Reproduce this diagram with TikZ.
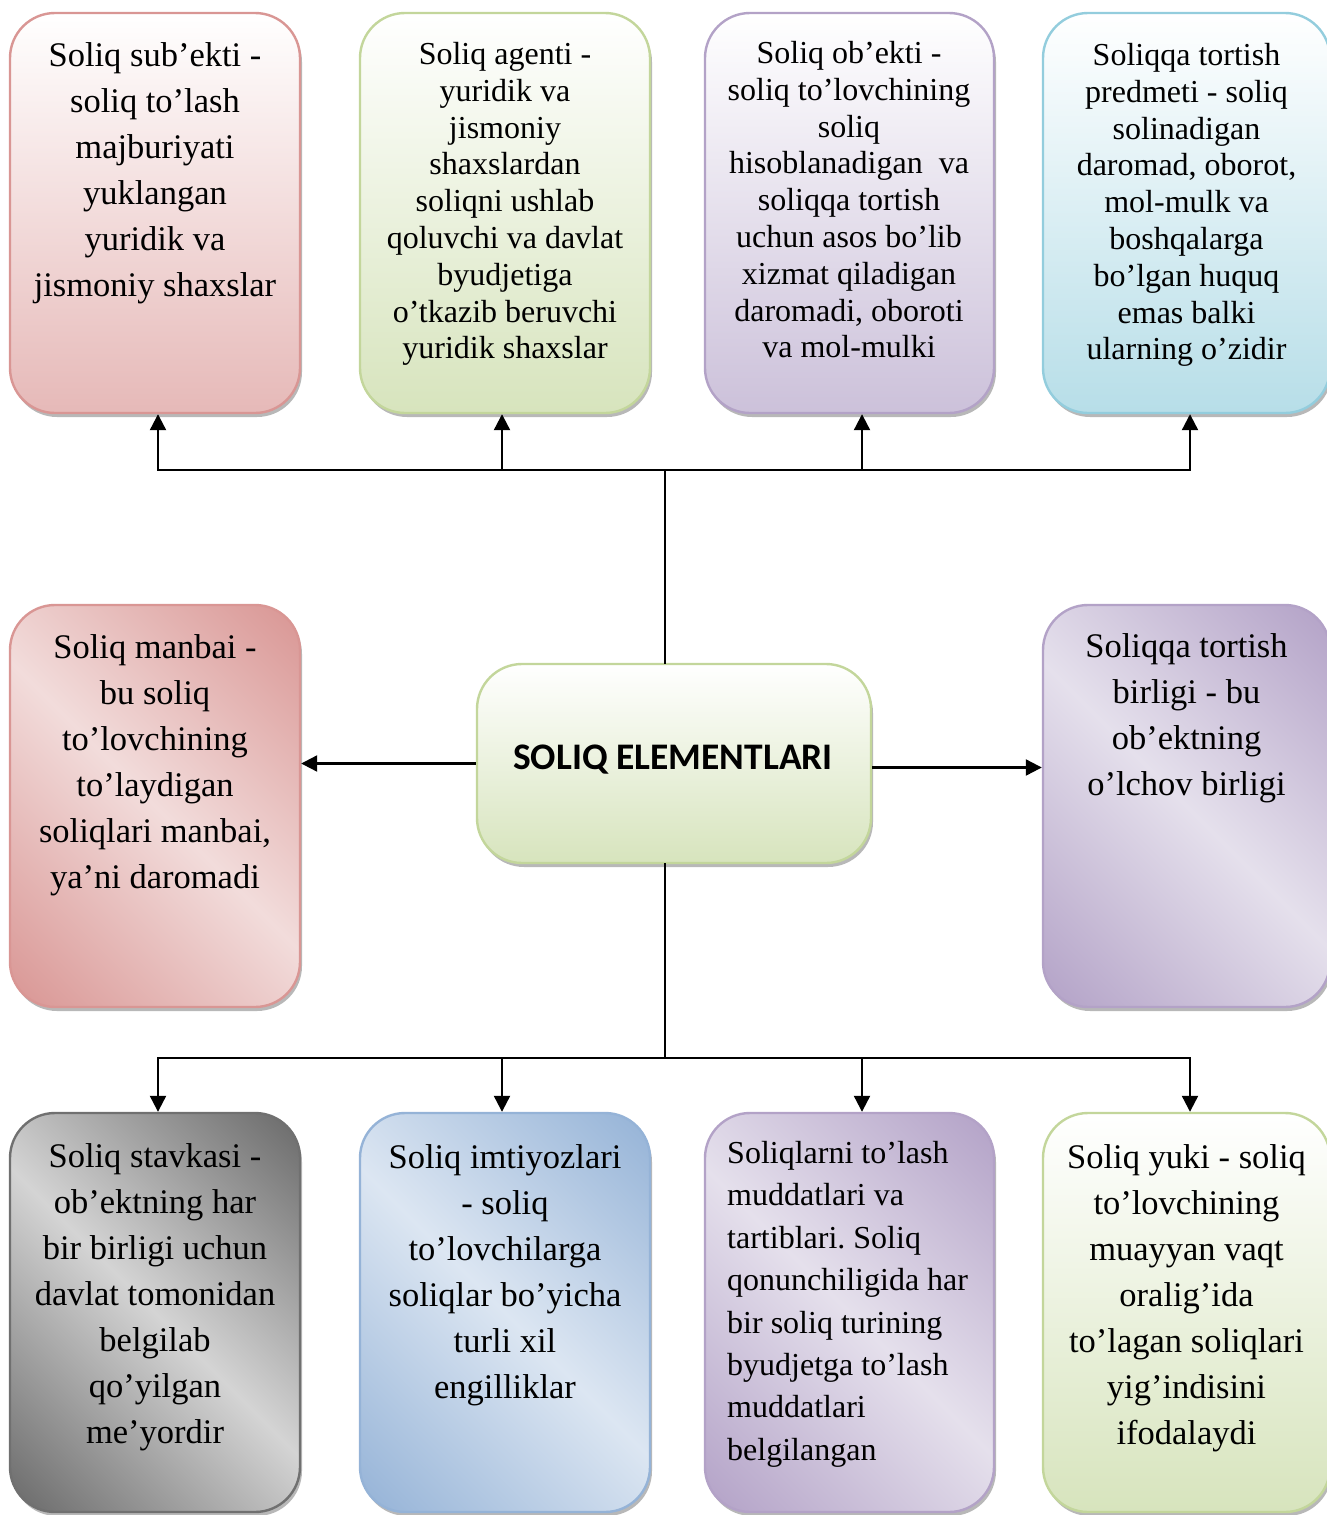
\documentclass[tikz,border=0pt]{standalone}
\usepackage{fontspec}
\setmainfont{Liberation Serif}
\newfontfamily\titlefont{Carlito}
\usetikzlibrary{arrows.meta,shadows}
\frenchspacing

% palette
\definecolor{pinkdk}{HTML}{D99694}
\definecolor{pinkmd}{HTML}{E6B9B8}
\definecolor{pinklt}{HTML}{F2DCDB}
\definecolor{greendk}{HTML}{C3D69B}
\definecolor{greenmd}{HTML}{D7E4BD}
\definecolor{purpdk}{HTML}{B3A2C7}
\definecolor{purpmd}{HTML}{CCC1DA}
\definecolor{purplt}{HTML}{E5E0EC}
\definecolor{bluedk}{HTML}{93CDDD}
\definecolor{bluemd}{HTML}{B7DEE8}
\definecolor{sky}{HTML}{95B3D7}
\definecolor{skylt}{HTML}{DCE6F2}
\definecolor{graydk}{HTML}{6A6A6A}
\definecolor{graylt}{HTML}{D4D4D4}
\definecolor{grayln}{HTML}{707070}

% diagonal reflected gradients
\pgfdeclarehorizontalshading{pinkrefl}{100bp}{color(0bp)=(pinkdk); color(15bp)=(pinkdk); color(50bp)=(pinklt); color(85bp)=(pinkdk); color(100bp)=(pinkdk)}
\pgfdeclarehorizontalshading{purprefl}{100bp}{color(0bp)=(purpdk); color(15bp)=(purpdk); color(50bp)=(purplt); color(85bp)=(purpdk); color(100bp)=(purpdk)}
\pgfdeclarehorizontalshading{grayrefl}{100bp}{color(0bp)=(graydk); color(15bp)=(graydk); color(50bp)=(graylt); color(85bp)=(graydk); color(100bp)=(graydk)}
\pgfdeclarehorizontalshading{skyrefl}{100bp}{color(0bp)=(sky); color(15bp)=(sky); color(50bp)=(skylt); color(85bp)=(sky); color(100bp)=(sky)}

\tikzset{
  card/.style={draw, line width=2.4pt, rounded corners=45pt, inner sep=0pt,
    minimum width=290pt, minimum height=400pt,
    drop shadow={shadow xshift=2pt, shadow yshift=-4pt, fill=black, opacity=0.28}},
  vpink/.style={card, draw=pinkdk, top color=white, bottom color=pinkmd},
  vgreen/.style={card, draw=greendk, top color=white, bottom color=greenmd},
  vpurp/.style={card, draw=purpdk, top color=white, bottom color=purpmd},
  vblue/.style={card, draw=bluedk, top color=white, bottom color=bluemd},
  dpink/.style={card, draw=pinkdk, shading=pinkrefl, shading angle=45},
  dpurp/.style={card, draw=purpdk, shading=purprefl, shading angle=45},
  dgray/.style={card, draw=grayln, shading=grayrefl, shading angle=45},
  dsky/.style={card, draw=sky, shading=skyrefl, shading angle=45},
  bigtxt/.style={anchor=north, align=center, inner sep=0pt, font=\fontsize{34.5}{46}\selectfont},
  smalltxt/.style={anchor=north, align=center, inner sep=0pt, font=\fontsize{32}{36.8}\selectfont},
  conn/.style={line width=2.2pt, black, line cap=rect},
  arr/.style={line width=2.2pt, black, -{Triangle[width=16pt,length=16pt]}}
}

\begin{document}
\begin{tikzpicture}[x=1pt, y=-1pt]
\useasboundingbox (0,0) rectangle (1326,1515);

% top row
\node[vpink]  (b1) at (155,213) {};
\node[vgreen] (b2) at (505,213) {};
\node[vpurp, minimum width=289pt] (b3) at (849.5,213) {};
\node[vblue, minimum width=287pt]  (b4) at (1186.5,213) {};

\node[bigtxt] (t1) at (155,42) {Soliq sub’ekti -\\soliq to’lash\\majburiyati\\yuklangan\\yuridik va\\jismoniy shaxslar};
\node[smalltxt] (t2) at (505,42) {Soliq agenti -\\yuridik va\\jismoniy\\shaxslardan\\soliqni ushlab\\qoluvchi va davlat\\byudjetiga\\o’tkazib beruvchi\\yuridik shaxslar};
\node[smalltxt] (t3) at (849,41) {Soliq ob’ekti -\\soliq to’lovchining\\soliq\\hisoblanadigan\ \ va\\soliqqa tortish\\uchun asos bo’lib\\xizmat qiladigan\\daromadi, oboroti\\va mol-mulki};
\node[smalltxt] (t4) at (1186.5,43) {Soliqqa tortish\\predmeti - soliq\\solinadigan\\daromad, oborot,\\mol-mulk va\\boshqalarga\\bo’lgan huquq\\emas balki\\ularning o’zidir};

% middle row
\node[dpink, minimum height=402pt] (b5) at (155,806) {};
\node[dpurp, minimum width=287pt, minimum height=402pt] (b6) at (1186.5,806) {};
\node[vgreen, minimum width=394pt, minimum height=199pt] (c) at (674,763.5) {};

\node[bigtxt] (t5) at (155,634) {Soliq manbai -\\bu soliq\\to’lovchining\\to’laydigan\\soliqlari manbai,\\ya’ni daromadi};
\node[bigtxt] (t6) at (1186.5,633) {Soliqqa tortish\\birligi - bu\\ob’ektning\\o’lchov birligi};
\node[anchor=base, inner sep=0pt, font=\titlefont\bfseries\fontsize{37.5}{41}\selectfont] (tc) at (673,769) {SOLIQ ELEMENTLARI};

% bottom row
\node[dgray, minimum height=399pt] (b7) at (155,1312.5) {};
\node[dsky, minimum height=399pt] (b8) at (505,1312.5) {};
\node[dpurp, minimum width=289pt, minimum height=399pt] (b9) at (849.5,1312.5) {};
\node[vgreen, minimum width=287pt, minimum height=399pt] (b10) at (1186.5,1312.5) {};

\node[bigtxt] (t7) at (155,1143) {Soliq stavkasi -\\ob’ektning har\\bir birligi uchun\\davlat tomonidan\\belgilab\\qo’yilgan\\me’yordir};
\node[bigtxt] (t8) at (505,1144) {Soliq imtiyozlari\\- soliq\\to’lovchilarga\\soliqlar bo’yicha\\turli xil\\engilliklar};
\node[anchor=north west, align=left, inner sep=0pt, font=\fontsize{32}{42.4}\selectfont] (t9) at (727,1141) {Soliqlarni to’lash\\muddatlari va\\tartiblari. Soliq\\qonunchiligida har\\bir soliq turining\\byudjetga to’lash\\muddatlari\\belgilangan};
\node[bigtxt] (t10) at (1186.5,1144) {Soliq yuki - soliq\\to’lovchining\\muayyan vaqt\\oralig’ida\\to’lagan soliqlari\\yig’indisini\\ifodalaydi};

% upper distribution bus
\coordinate (jt) at (665,470);
\coordinate (jt1) at (158,470);
\coordinate (jt2) at (502,470);
\coordinate (jt3) at (862,470);
\coordinate (jt4) at (1190,470);
\draw[conn] (c.north -| jt) -- (jt);
\draw[conn] (jt1) -- (jt4);
\draw[arr] (jt1) -- (jt1 |- b1.south);
\draw[arr] (jt2) -- (jt2 |- b2.south);
\draw[arr] (jt3) -- (jt3 |- b3.south);
\draw[arr] (jt4) -- (jt4 |- b4.south);

% side links
\coordinate (ce) at ([yshift=-4pt]c.east);
\draw[arr] (c.west) -- (b5.east |- c.west);
\draw[arr] (ce) -- (b6.west |- ce);

% lower distribution bus
\coordinate (jb) at (665,1058);
\coordinate (jb1) at (158,1058);
\coordinate (jb2) at (502,1058);
\coordinate (jb3) at (862,1058);
\coordinate (jb4) at (1190,1058);
\draw[conn] (c.south -| jb) -- (jb);
\draw[conn] (jb1) -- (jb4);
\draw[arr] (jb1) -- (jb1 |- b7.north);
\draw[arr] (jb2) -- (jb2 |- b8.north);
\draw[arr] (jb3) -- (jb3 |- b9.north);
\draw[arr] (jb4) -- (jb4 |- b10.north);
\end{tikzpicture}
\end{document}
